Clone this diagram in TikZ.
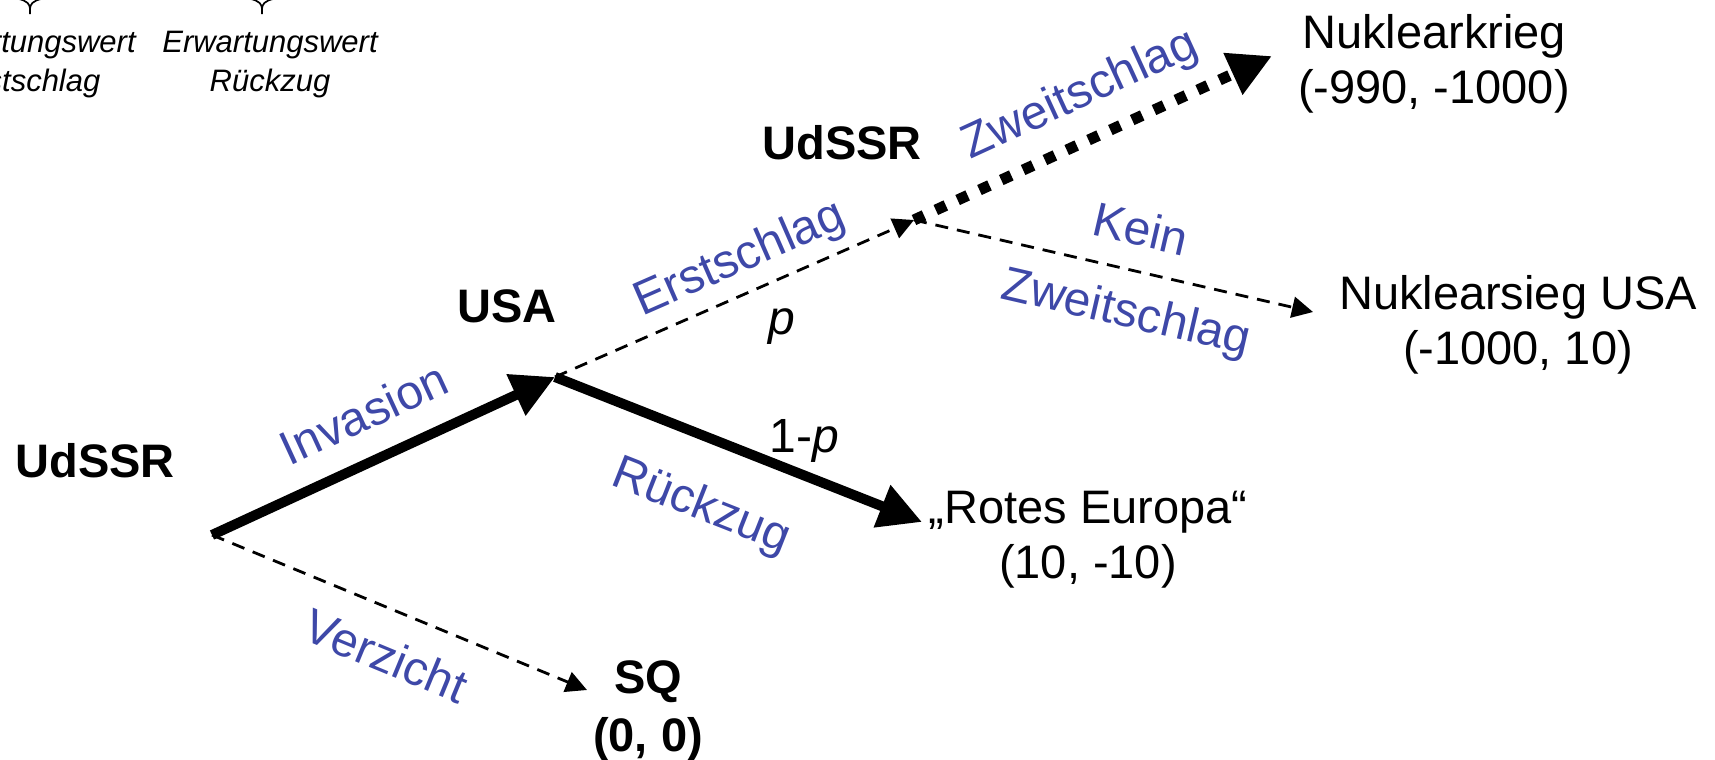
\documentclass[tikz,border=0pt]{standalone}
\usepackage{fontspec}
\setmainfont{Liberation Sans}
\usetikzlibrary{arrows.meta}

\definecolor{actblue}{RGB}{62,72,168}

\begin{document}
\begin{tikzpicture}[
    x=0.5pt, y=-0.5pt,
    player/.style={inner sep=0pt, font=\fontsize{23.5}{28}\selectfont\bfseries},
    payoff/.style={inner sep=0pt, anchor=north, align=center,
        font=\fontsize{23.5}{27.5}\selectfont},
    act/.style={inner sep=0pt, sloped, text=actblue, font=\fontsize{24}{28}\selectfont},
    prob/.style={inner sep=0pt, font=\fontsize{24}{28}\selectfont},
    note/.style={inner sep=0pt, anchor=north, align=center,
        font=\fontsize{15.5}{19.5}\selectfont\itshape},
    strong/.style={line width=5pt, -{Triangle[length=21.5pt, width=21.5pt]}},
    weak/.style={line width=1.4pt, dash pattern=on 6.5pt off 4.5pt,
        -{Triangle[length=10.5pt, width=10.5pt]}},
    strike/.style={line width=5.5pt, dash pattern=on 5.5pt off 6.5pt,
        -{Triangle[length=21.5pt, width=21.5pt]}}
]
\useasboundingbox (0,0) rectangle (1715,760);

% decision points of the tree
\coordinate (root) at (212,535);
\coordinate (usa) at (555,377);
\coordinate (ussr) at (914,220);

% where the last moves end
\coordinate (sq-in) at (587,690);
\coordinate (red-in) at (922,522);
\coordinate (war-in) at (1272,56);
\coordinate (win-in) at (1313,312);

% players
\node[player] (p-root) at (95,461) {UdSSR};
\node[player] (p-usa) at (507,306) {USA};
\node[player] (p-ussr) at (842,143) {UdSSR};

% outcomes with payoffs
\node[payoff] (war) at (1434,14) {Nuklearkrieg\\(-990, -1000)};
\node[payoff] (win) at (1518,275) {Nuklearsieg USA\\(-1000, 10)};
\node[payoff] (red) at (1088,491) {„Rotes Europa“\\(10, -10)};
\node[payoff, font=\fontsize{23.5}{29}\selectfont\bfseries] (sq) at (648,660) {SQ\\(0, 0)};

% moves
\draw[strong] (root) -- node[act, pos=0.50, above=12.3pt] {Invasion} (usa);
\draw[weak] (root) -- node[act, pos=0.51, below=13pt] {Verzicht} (sq-in);
\draw[strong] (usa) -- node[act, pos=0.465, below=20pt] {Rückzug}
    node[prob, pos=0.68, above=4pt] {1-\textit{p}} (red-in);
\draw[weak] (usa) -- node[act, pos=0.553, above=4.7pt] {Erstschlag}
    node[prob, pos=0.633, below=15pt] {\textit{p}} (ussr);
\draw[strike] (ussr) -- node[act, pos=0.515, above=8pt] {Zweitschlag} (war-in);
\draw[weak] (ussr) -- node[act, pos=0.545, above=11.8pt] {Kein}
    node[act, pos=0.556, below=10.3pt] {Zweitschlag} (win-in);

% expected values, braces from above
\node[note] (ev-first) at (28,31) {Erwartungswert\\Erstschlag};
\node[note] (ev-back) at (270,31) {Erwartungswert\\Rückzug};
\foreach \x in {30,262}
    \draw[line width=0.85pt] (\x-11,-1) .. controls (\x-3,1) and (\x,4) .. (\x,9) -- (\x,14)
        (\x+11,-1) .. controls (\x+3,1) and (\x,4) .. (\x,9);
\end{tikzpicture}
\end{document}
